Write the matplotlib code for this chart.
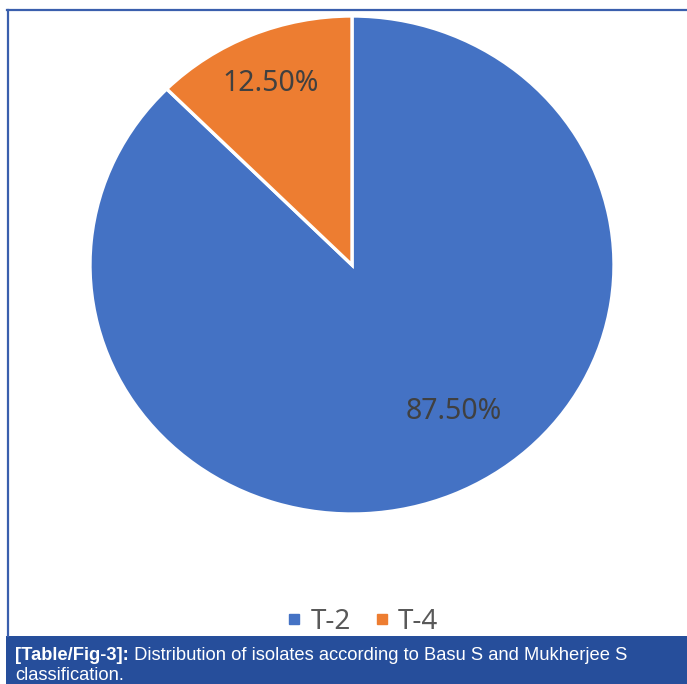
import matplotlib
matplotlib.use("Agg")
import matplotlib.pyplot as plt
from matplotlib.patches import Rectangle
from matplotlib.lines import Line2D

categories = ["T-2", "T-4"]
shares = [87.5, 12.5]
pct_labels = ["87.50%", "12.50%"]
colors = ["#4472C4", "#ED7D31"]
caption_bold = "[Table/Fig-3]:"
caption_rest = " Distribution of isolates according to Basu S and Mukherjee S"
caption_line2 = "classification."

W, H = 687, 684
fig = plt.figure(figsize=(W / 100, H / 100), dpi=100)
fig.patch.set_facecolor("white")

# frame lines (top + left) and caption box, in pixel-ish figure fractions
fig.add_artist(Line2D([7 / W, 1], [1 - 9.5 / H, 1 - 9.5 / H], color="#3A5FAD", lw=1.6))
fig.add_artist(Line2D([8 / W, 8 / W], [1 - 9.5 / H, 1 - 636 / H], color="#3A5FAD", lw=1.6))
fig.add_artist(Rectangle((6 / W, 0), 1, 48 / H, facecolor="#264E9B", edgecolor="none"))

# pie (slightly wider than tall, like the source)
ax = fig.add_axes([90 / W, 1 - 514 / H, 524 / W, 498 / H])
wedges, _ = ax.pie(shares, colors=colors, startangle=90, counterclock=False,
                   wedgeprops=dict(edgecolor="white", linewidth=2.4))
ax.set_aspect("auto")
ax.set_xlim(-1, 1)
ax.set_ylim(-1, 1)
ax.axis("off")

# percentage labels (positions as placed by Excel)
label_pos = [(0.39, -0.59), (-0.31, 0.73)]
for (x, y), txt in zip(label_pos, pct_labels):
    ax.text(x, y, txt, ha="center", va="center", fontsize=20.5,
            family="Noto Sans", color="#404040")

# legend
handles = [Line2D([], [], marker="s", ls="none", markersize=7,
                  markerfacecolor=c, markeredgecolor=c) for c in colors]
fig.legend(handles, categories, loc="center", bbox_to_anchor=(362 / W, 1 - 622 / H),
           ncol=2, frameon=False, handlelength=0.6, handletextpad=0.3,
           columnspacing=0.8, prop={"family": "Noto Sans", "size": 20},
           labelcolor="#595959")

# caption with bold prefix
fs = 13.2
t1 = fig.text(15 / W, 1 - 655 / H, caption_bold, fontsize=fs, fontweight="bold",
              family="Liberation Sans", color="white", va="center")
fig.canvas.draw()
bb = t1.get_window_extent()
fig.text(bb.x1 / W, 1 - 655 / H, caption_rest, fontsize=fs,
         family="Liberation Sans", color="white", va="center")
fig.text(15 / W, 1 - 676 / H, caption_line2, fontsize=fs,
         family="Liberation Sans", color="white", va="center")

fig.savefig("out.png", dpi=100)
